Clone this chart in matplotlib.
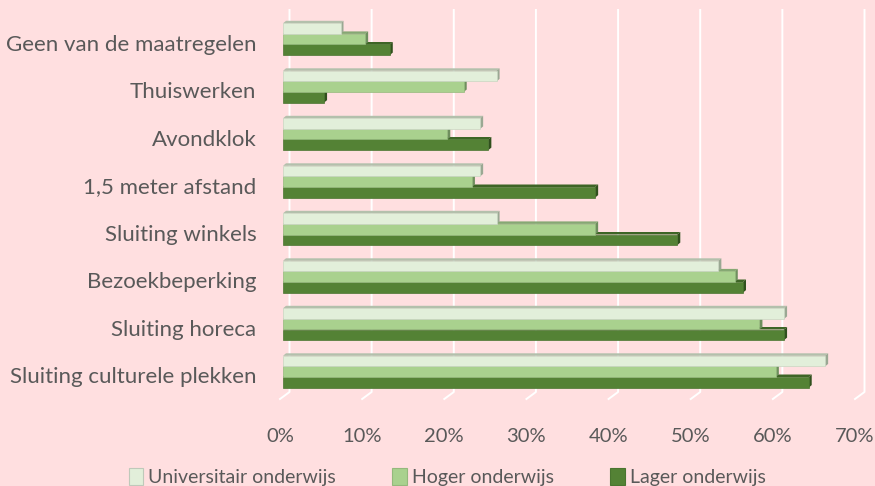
import matplotlib
matplotlib.use("Agg")
import matplotlib.pyplot as plt
from matplotlib.patches import Polygon, Patch

# data (percentages)
categories = ["Geen van de maatregelen", "Thuiswerken", "Avondklok", "1,5 meter afstand",
              "Sluiting winkels", "Bezoekbeperking", "Sluiting horeca", "Sluiting culturele plekken"]
series = ["Universitair onderwijs", "Hoger onderwijs", "Lager onderwijs"]
univ = [7, 26, 24, 24, 26, 53, 61, 66]
hoger = [10, 22, 20, 23, 38, 55, 58, 60]
lager = [13, 5, 25, 38, 48, 56, 61, 64]
xticks = [0, 10, 20, 30, 40, 50, 60, 70]

# colours: front, top, side
face = ["#E2EFDA", "#A9D18E", "#548235"]
top = ["#B3C0AC", "#86A873", "#3E6526"]
side = ["#9AA893", "#6F8F5E", "#30501D"]
edge = ["#C9D6C2", "#94B97C", "#4A7530"]
bg = "#FFDFE0"

plt.rcParams["font.family"] = ["Lato", "DejaVu Sans"]
W, H = 875, 486
fig = plt.figure(figsize=(W / 100, H / 100), dpi=100, facecolor=bg)
ax = fig.add_axes([280 / W, (H - 399) / H, 575 / W, 389 / H])
ax.set_facecolor(bg)

# pixel -> data helpers
xpp = 70 / 575
ypp = 1 / 47.5
def ypix(p):
    return (p - 39.2) * ypp

ax.set_xlim(0, 70)
ax.set_ylim(ypix(399), ypix(10))

# back wall gridlines + floor diagonals
gx = 9.5 * xpp
for v in xticks:
    ax.plot([v + gx, v + gx, v], [ypix(10), ypix(392), ypix(399)],
            color="white", lw=1.4, clip_on=False, zorder=1)

bh = 10.6 * ypp
dx, dy = 3 * xpp, 2.5 * ypp
x0 = 3 * xpp
vals = [univ, hoger, lager]
for i in range(len(categories)):
    for k in [2, 1, 0]:
        v = vals[k][i]
        yc = i + (k - 1) * bh
        yt, yb = yc - bh / 2, yc + bh / 2
        z = 3 + (2 - k) * 3
        ax.barh(yc, v, height=bh, left=x0, color=face[k], edgecolor=edge[k],
                lw=0.5, zorder=z + 2)
        # top face
        ax.add_patch(Polygon([(x0, yt), (x0 + v, yt), (x0 + v + dx, yt - dy), (x0 + dx, yt - dy)],
                             closed=True, fc=top[k], ec="none", zorder=z, clip_on=False))
        # side face
        ax.add_patch(Polygon([(x0 + v, yt), (x0 + v + dx, yt - dy), (x0 + v + dx, yb - dy), (x0 + v, yb)],
                             closed=True, fc=side[k], ec="none", zorder=z + 1, clip_on=False))

for s in ax.spines.values():
    s.set_visible(False)
ax.set_xticks(xticks)
ax.set_xticklabels([f"{t}%" for t in xticks])
ax.set_yticks([i + 3.5 * ypp for i in range(len(categories))])
ax.set_yticklabels(categories)
ax.tick_params(length=0, colors="#595959")
ax.tick_params(axis="x", pad=21, labelsize=14.5)
ax.tick_params(axis="y", pad=17, labelsize=16)

handles = [Patch(facecolor=face[k], edgecolor=edge[k] if k else "#BFC9BA", lw=0.8) for k in range(3)]
fig.legend(handles, series, loc="center", bbox_to_anchor=(0.511, 0.018), ncol=3, frameon=False,
           fontsize=14, labelcolor="#595959", handlelength=0.75, handleheight=0.95,
           handletextpad=0.25, columnspacing=2.9)

fig.savefig("out.png", dpi=100, facecolor=bg)
